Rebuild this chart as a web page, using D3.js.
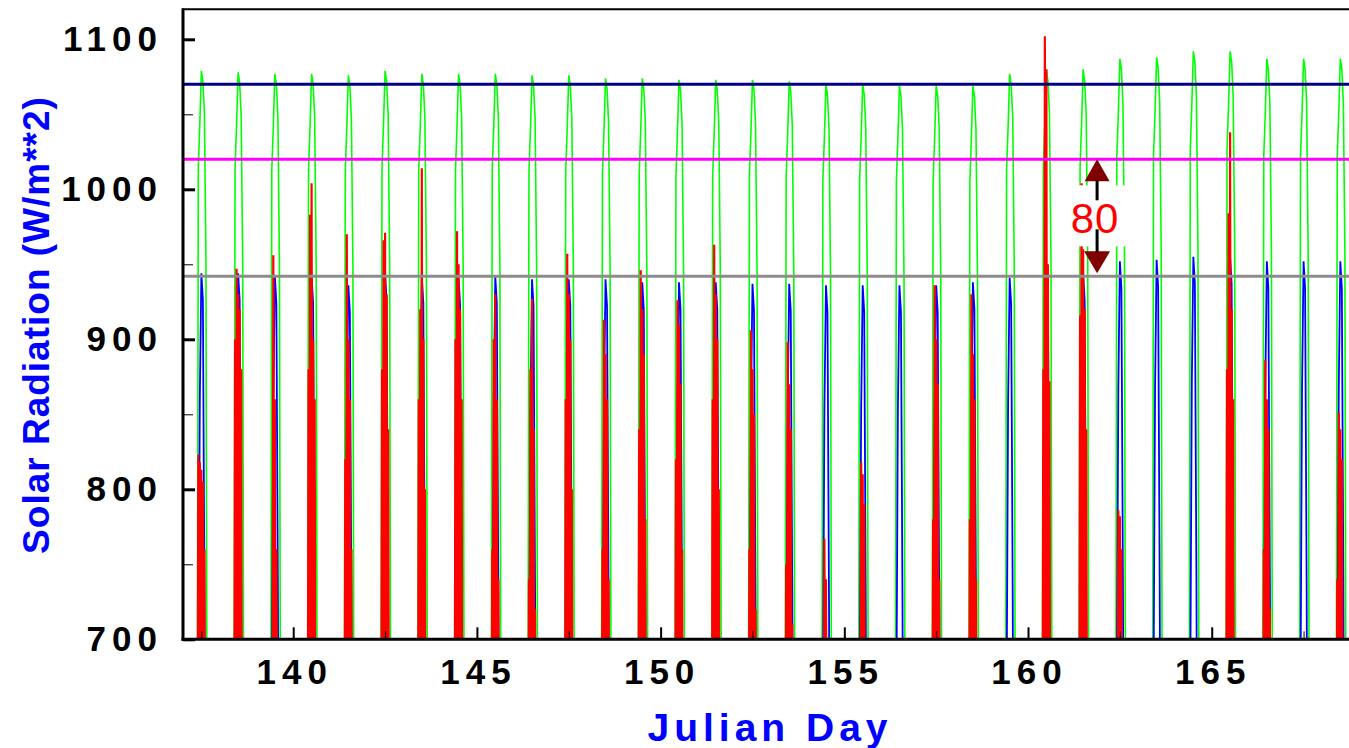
<!DOCTYPE html>
<html>
<head>
<meta charset="utf-8">
<script src="https://cdn.jsdelivr.net/npm/d3@7"></script>
<style>
  html, body { margin: 0; padding: 0; background: #fff; overflow: hidden; }
  svg { display: block; font-family: "Liberation Sans", Arial, sans-serif; }
</style>
</head>
<body>
<svg id="chart"></svg>
<script>
// days shown on the chart (each row below is one day)
const days = [137, 138, 139, 140, 141, 142, 143, 144, 145, 146, 147, 148, 149, 150, 151, 152,
              153, 154, 155, 156, 157, 158, 159, 160, 161, 162, 163, 164, 165, 166, 167, 168];

// hourly samples for the model curves
const hourly = [8, 9, 10, 11, 12, 13, 14, 15, 16];

// green: clear sky model (W/m**2)
const greenByDay = [
  [180, 420, 1015, 1044, 1079, 1072, 1050, 952, 470],
  [180, 420, 1014, 1043, 1078, 1071, 1049, 950, 470],
  [178, 418, 1013, 1042, 1077, 1070, 1048, 950, 468],
  [178, 418, 1013, 1042, 1077, 1070, 1048, 949, 468],
  [176, 416, 1012, 1041, 1076, 1069, 1047, 948, 466],
  [180, 420, 1015, 1044, 1079, 1072, 1050, 951, 470],
  [178, 418, 1013, 1042, 1077, 1070, 1048, 950, 468],
  [178, 418, 1013, 1042, 1077, 1070, 1048, 950, 468],
  [178, 418, 1013, 1042, 1077, 1070, 1048, 949, 468],
  [176, 416, 1012, 1041, 1076, 1069, 1047, 948, 466],
  [176, 416, 1012, 1041, 1076, 1069, 1047, 948, 466],
  [175, 415, 1010, 1039, 1074, 1067, 1045, 946, 465],
  [175, 415, 1010, 1039, 1074, 1067, 1045, 946, 465],
  [174, 414, 1009, 1038, 1073, 1066, 1044, 945, 464],
  [174, 414, 1009, 1038, 1073, 1066, 1044, 945, 464],
  [174, 414, 1009, 1038, 1073, 1066, 1044, 945, 464],
  [173, 413, 1008, 1037, 1072, 1065, 1043, 944, 463],
  [172, 412, 1006, 1035, 1070, 1063, 1041, 942, 462],
  [172, 412, 1006, 1035, 1070, 1063, 1041, 942, 462],
  [171, 411, 1005, 1034, 1069, 1062, 1040, 941, 461],
  [171, 411, 1005, 1034, 1069, 1062, 1040, 941, 461],
  [171, 411, 1005, 1034, 1069, 1062, 1040, 941, 461],
  [178, 418, 1013, 1042, 1077, 1070, 1048, 950, 468],
  [180, 420, 1015, 1044, 1080, 1072, 1050, 952, 470],
  [180, 420, 1015, 1044, 1080, 1072, 1050, 952, 470],
  [186, 426, 1022, 1051, 1087, 1080, 1057, 958, 476],
  [187, 427, 1023, 1052, 1088, 1081, 1058, 959, 477],
  [190, 430, 1027, 1056, 1092, 1085, 1062, 962, 480],
  [190, 430, 1027, 1056, 1092, 1085, 1062, 962, 480],
  [186, 426, 1022, 1051, 1087, 1080, 1057, 958, 476],
  [186, 426, 1022, 1051, 1087, 1080, 1057, 958, 476],
  [186, 426, 1022, 1051, 1087, 1080, 1057, 958, 476]
];

// blue: second model (W/m**2)
const blueByDay = [
  [100, 300, 662, 862, 944, 926, 732, 452, 200],
  [100, 300, 662, 862, 944, 926, 732, 452, 200],
  [100, 300, 660, 860, 942, 924, 730, 450, 200],
  [100, 300, 660, 860, 942, 924, 730, 450, 200],
  [98, 296, 654, 854, 936, 918, 725, 446, 198],
  [100, 300, 662, 862, 944, 926, 732, 452, 200],
  [100, 300, 660, 860, 942, 924, 730, 450, 200],
  [99, 299, 659, 859, 941, 923, 729, 449, 199],
  [100, 300, 660, 860, 942, 924, 730, 450, 200],
  [99, 298, 658, 858, 940, 922, 728, 448, 199],
  [99, 298, 658, 858, 940, 922, 728, 448, 199],
  [99, 298, 658, 858, 940, 922, 728, 448, 199],
  [98, 297, 656, 856, 938, 920, 726, 447, 198],
  [98, 297, 656, 856, 938, 920, 726, 447, 198],
  [98, 297, 656, 856, 938, 920, 726, 447, 198],
  [98, 296, 655, 855, 937, 919, 726, 446, 198],
  [98, 296, 655, 855, 937, 919, 726, 446, 198],
  [98, 296, 654, 854, 936, 918, 725, 446, 198],
  [98, 296, 654, 854, 936, 918, 725, 446, 198],
  [98, 296, 654, 854, 936, 918, 725, 446, 198],
  [98, 296, 654, 854, 936, 918, 725, 446, 198],
  [98, 297, 656, 856, 938, 920, 726, 447, 198],
  [99, 299, 659, 859, 941, 923, 729, 449, 199],
  [100, 301, 663, 863, 945, 927, 733, 453, 200],
  [100, 300, 662, 862, 944, 926, 732, 452, 200],
  [102, 304, 668, 868, 952, 934, 738, 456, 202],
  [102, 304, 669, 869, 953, 935, 739, 457, 202],
  [103, 305, 671, 871, 955, 937, 741, 458, 203],
  [103, 305, 671, 871, 955, 937, 741, 458, 203],
  [102, 304, 668, 868, 952, 934, 738, 456, 202],
  [102, 304, 668, 868, 952, 934, 738, 456, 202],
  [102, 304, 668, 868, 952, 934, 738, 456, 202]
];

// half hourly samples for the measured curve
const halfHourly = [9.5, 10, 10.5, 11, 11.5, 12, 12.5, 13, 13.5, 14, 14.5, 15];

// red: measured (W/m**2)
const redByDay = [
  [600, 823, 640, 818, 660, 813, 640, 805, 650, 760, 560, 420],
  [600, 900, 650, 947, 660, 930, 650, 920, 640, 880, 600, 450],
  [560, 680, 620, 956, 650, 860, 620, 760, 600, 680, 540, 420],
  [600, 880, 640, 983, 660, 1004, 650, 900, 640, 860, 600, 470],
  [580, 820, 640, 970, 650, 900, 640, 860, 620, 760, 580, 430],
  [600, 880, 650, 966, 660, 971, 650, 930, 640, 840, 600, 450],
  [590, 860, 640, 920, 650, 1014, 640, 900, 630, 800, 580, 440],
  [600, 900, 650, 972, 660, 950, 650, 920, 640, 860, 600, 460],
  [580, 760, 630, 900, 640, 930, 630, 860, 610, 740, 560, 420],
  [570, 740, 620, 880, 640, 927, 630, 840, 600, 720, 550, 410],
  [600, 860, 650, 957, 660, 930, 650, 900, 630, 800, 590, 450],
  [570, 760, 620, 913, 640, 890, 630, 860, 600, 740, 560, 420],
  [590, 840, 640, 946, 650, 920, 640, 890, 620, 780, 570, 440],
  [580, 820, 630, 926, 640, 910, 630, 870, 610, 760, 560, 430],
  [600, 860, 650, 963, 660, 930, 650, 900, 630, 800, 590, 450],
  [560, 760, 620, 906, 630, 880, 620, 850, 600, 720, 550, 410],
  [560, 750, 620, 898, 630, 870, 620, 840, 600, 710, 540, 400],
  [520, 620, 600, 767, 620, 740, 600, 700, 580, 600, 480, 360],
  [540, 700, 610, 818, 630, 810, 610, 790, 590, 660, 500, 380],
  [480, 560, 560, 680, 580, 690, 570, 660, 550, 540, 460, 340],
  [570, 780, 630, 936, 640, 900, 630, 870, 610, 740, 560, 420],
  [570, 780, 630, 930, 640, 890, 630, 860, 610, 740, 560, 420],
  [460, 540, 560, 660, 580, 680, 570, 650, 550, 520, 440, 330],
  [600, 880, 650, 1102, 660, 1080, 650, 950, 640, 872, 600, 460],
  [600, 916, 650, 1004, 660, 960, 650, 920, 640, 840, 600, 460],
  [520, 660, 600, 786, 620, 782, 600, 760, 580, 640, 500, 360],
  [440, 520, 540, 640, 560, 660, 550, 630, 530, 500, 420, 320],
  [440, 520, 540, 650, 560, 670, 550, 640, 530, 510, 430, 320],
  [600, 880, 650, 984, 660, 1038, 650, 920, 640, 860, 600, 470],
  [560, 760, 620, 886, 630, 860, 620, 840, 600, 720, 540, 400],
  [440, 520, 540, 650, 560, 660, 550, 640, 530, 510, 430, 320],
  [560, 740, 610, 851, 630, 840, 610, 820, 590, 700, 530, 400]
];

// reference levels
const refLines = [
  { value: 1070, color: "#000080" },
  { value: 1020, color: "#ff00ff" },
  { value: 942, color: "#8c8c8c" }
];

// annotation between the magenta and grey levels
const annoDay = 161.88;
const annoTop = 1020;
const annoBottom = 942;
const annoText = "80";

const xMajor = [140, 145, 150, 155, 160, 165];
const xMinor = [137.5, 142.5, 147.5, 152.5, 157.5, 162.5, 167.5];
const yMajor = [700, 800, 900, 1000, 1100];
const yMinor = [750, 850, 950, 1050];

const width = 1349, height = 748;
const margin = { top: 9.3, left: 183, bottom: 108.7 };
const plotRight = 183 + 32 * 36.74;

const svg = d3.select("#chart").attr("width", width).attr("height", height);

const x = d3.scaleLinear().domain([137, 169]).range([margin.left, plotRight]);
const y = d3.scaleLinear().domain([700, 1120]).range([height - margin.bottom, margin.top]);

svg.append("clipPath").attr("id", "plot-clip")
  .append("rect")
  .attr("x", x(137)).attr("y", y(1120))
  .attr("width", plotRight - x(137)).attr("height", y(700) - y(1120));

function seriesPoints(rows, hrs) {
  const pts = [];
  rows.forEach((row, i) => {
    row.forEach((v, j) => pts.push({ t: days[i] + hrs[j] / 24, v: v }));
  });
  return pts;
}

const line = d3.line().x(d => x(d.t)).y(d => y(d.v));

const plot = svg.append("g").attr("clip-path", "url(#plot-clip)");

plot.append("path")
  .datum(seriesPoints(greenByDay, hourly))
  .attr("d", line).attr("fill", "none")
  .attr("stroke", "#00ff00").attr("stroke-width", 1.6);

plot.append("path")
  .datum(seriesPoints(blueByDay, hourly))
  .attr("d", line).attr("fill", "none")
  .attr("stroke", "#0000ff").attr("stroke-width", 1.8);

plot.append("path")
  .datum(seriesPoints(redByDay, halfHourly))
  .attr("d", line).attr("fill", "none")
  .attr("stroke", "#ff0000").attr("stroke-width", 2.2);

// horizontal reference lines
plot.selectAll("line.ref")
  .data(refLines)
  .join("line")
  .attr("class", "ref")
  .attr("x1", x(137)).attr("x2", plotRight)
  .attr("y1", d => y(d.value)).attr("y2", d => y(d.value))
  .attr("stroke", d => d.color).attr("stroke-width", 3);

// annotation "80" with arrows
const ax = x(annoDay);
const yTop = y(annoTop), yBot = y(annoBottom);
const anno = svg.append("g");
anno.append("rect")
  .attr("x", ax - 28).attr("y", yTop + 26)
  .attr("width", 58).attr("height", yBot - yTop - 56)
  .attr("fill", "#fff");
anno.append("path")
  .attr("d", `M${ax},${yTop} L${ax - 12.5},${yTop + 22} L${ax + 12.5},${yTop + 22} Z`)
  .attr("fill", "#800000");
anno.append("path")
  .attr("d", `M${ax},${yBot - 3} L${ax - 13},${yBot - 25} L${ax + 13},${yBot - 25} Z`)
  .attr("fill", "#800000");
anno.append("line")
  .attr("x1", ax).attr("x2", ax).attr("y1", yTop + 21).attr("y2", yTop + 41)
  .attr("stroke", "#000").attr("stroke-width", 3);
anno.append("line")
  .attr("x1", ax).attr("x2", ax).attr("y1", yBot - 47).attr("y2", yBot - 24)
  .attr("stroke", "#000").attr("stroke-width", 3);
anno.append("text")
  .attr("x", ax - 2).attr("y", (yTop + yBot) / 2 + 15)
  .attr("text-anchor", "middle")
  .attr("font-size", 42).attr("fill", "#ff0000")
  .attr("letter-spacing", 1)
  .text(annoText);

// frame
svg.append("line")
  .attr("x1", x(137)).attr("x2", width).attr("y1", y(1120)).attr("y2", y(1120))
  .attr("stroke", "#000").attr("stroke-width", 2);
svg.append("line")
  .attr("x1", x(137)).attr("x2", x(137)).attr("y1", y(1120) - 1).attr("y2", y(700) + 1.5)
  .attr("stroke", "#000").attr("stroke-width", 3);
svg.append("line")
  .attr("x1", x(137) - 1.5).attr("x2", width).attr("y1", y(700)).attr("y2", y(700))
  .attr("stroke", "#000").attr("stroke-width", 3);

// y axis
const yAxisG = svg.append("g")
  .attr("transform", `translate(${x(137)},0)`)
  .call(d3.axisLeft(y).tickValues(yMajor).tickFormat(d3.format("d"))
    .tickSizeInner(-12).tickSizeOuter(0).tickPadding(26));
svg.append("g")
  .attr("transform", `translate(${x(137)},0)`)
  .call(d3.axisLeft(y).tickValues(yMinor).tickSizeInner(-10).tickSizeOuter(0).tickFormat(""));

// x axis
const xAxisG = svg.append("g")
  .attr("transform", `translate(0,${y(700)})`)
  .call(d3.axisBottom(x).tickValues(xMajor).tickFormat(d3.format("d"))
    .tickSizeInner(-12).tickSizeOuter(0).tickPadding(20));
svg.append("g")
  .attr("transform", `translate(0,${y(700)})`)
  .call(d3.axisBottom(x).tickValues(xMinor).tickSizeInner(-8).tickSizeOuter(0).tickFormat(""));

svg.selectAll(".domain").remove();
svg.selectAll(".tick line").attr("stroke", "#000");
yAxisG.selectAll(".tick line").attr("stroke-width", 3);
xAxisG.selectAll(".tick line").attr("stroke-width", 2);

svg.selectAll(".tick text")
  .attr("font-family", "'Liberation Sans', Arial, sans-serif")
  .attr("font-size", 35).attr("font-weight", "bold")
  .attr("letter-spacing", 6).attr("fill", "#000");
yAxisG.selectAll(".tick text").attr("dx", 6);
xAxisG.selectAll(".tick text").attr("dx", 1);

// axis titles
svg.append("text")
  .attr("x", 770).attr("y", 741)
  .attr("text-anchor", "middle")
  .attr("font-size", 39).attr("font-weight", "bold")
  .attr("letter-spacing", 5).attr("fill", "#0000ff")
  .text("Julian Day");

svg.append("text")
  .attr("transform", "translate(49,325) rotate(-90)")
  .attr("text-anchor", "middle")
  .attr("font-size", 37).attr("font-weight", "bold")
  .attr("letter-spacing", 1).attr("fill", "#0000ff")
  .text("Solar Radiation (W/m**2)");
</script>
</body>
</html>
